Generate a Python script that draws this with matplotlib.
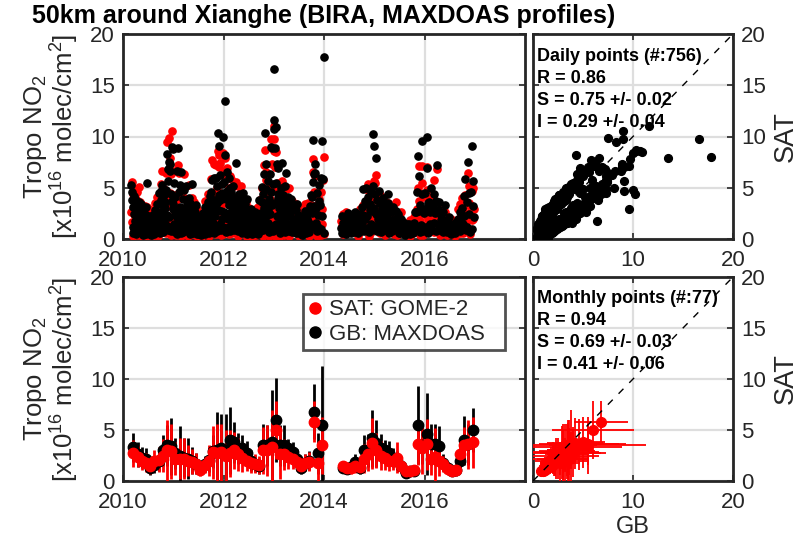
import datetime as dt
import matplotlib
matplotlib.use("Agg")
import matplotlib.pyplot as plt
from matplotlib.lines import Line2D

plt.rcParams['font.family'] = ['Liberation Sans', 'DejaVu Sans']
plt.rcParams['mathtext.fontset'] = 'custom'
plt.rcParams['mathtext.rm'] = 'Liberation Sans'
plt.rcParams['mathtext.it'] = 'Liberation Sans'

# ---------------- data ----------------
months = ["2010-03", "2010-04", "2010-05", "2010-06", "2010-07", "2010-08", "2010-09", "2010-10", "2010-11", "2010-12",
          "2011-01", "2011-02", "2011-03", "2011-04", "2011-05", "2011-06", "2011-07", "2011-08", "2011-09", "2011-10", "2011-11", "2011-12",
          "2012-01", "2012-02", "2012-03", "2012-04", "2012-05", "2012-06", "2012-07", "2012-08", "2012-09", "2012-10", "2012-11", "2012-12",
          "2013-01", "2013-02", "2013-03", "2013-04", "2013-05", "2013-06", "2013-07", "2013-08", "2013-09", "2013-10", "2013-11", "2013-12",
          "2014-05", "2014-06", "2014-07", "2014-08", "2014-09", "2014-10", "2014-11", "2014-12",
          "2015-01", "2015-02", "2015-03", "2015-04", "2015-05", "2015-06", "2015-07", "2015-08", "2015-09", "2015-10", "2015-11", "2015-12",
          "2016-01", "2016-02", "2016-03", "2016-04", "2016-05", "2016-06", "2016-07", "2016-08", "2016-09", "2016-10", "2016-11", "2016-12"]

# monthly means / standard deviations (x1e16 molec/cm2)
monthly_gb = [3.3, 2.6, 2.3, 2.2, 1.3, 1.6, 2.0, 3.0, 3.5, 3.4,
              2.7, 2.5, 2.3, 2.2, 2.0, 1.7, 1.2, 1.7, 2.1, 2.9, 3.0, 3.2,
              3.0, 4.0, 3.8, 3.2, 3.2, 2.7, 2.0, 1.7, 1.5, 3.5, 3.5, 3.8,
              6.0, 3.5, 3.5, 3.2, 2.8, 2.2, 1.25, 1.8, 2.0, 6.8, 2.7, 5.5,
              1.3, 1.2, 1.4, 1.9, 1.3, 3.0, 3.0, 4.2,
              3.7, 3.2, 3.0, 2.7, 2.3, 2.0, 1.5, 0.75, 1.0, 1.0, 5.5, 3.5,
              4.6, 3.6, 3.6, 3.4, 1.8, 1.3, 1.0, 1.1, 2.0, 4.0, 3.6, 5.0]
monthly_gb_sd = [1.4, 1.2, 1.0, 1.0, 0.7, 0.8, 1.0, 1.5, 2.0, 2.8,
                 1.5, 2.9, 1.9, 2.0, 1.3, 1.0, 0.6, 0.8, 1.2, 1.6, 3.8, 3.4,
                 3.6, 3.3, 2.0, 1.5, 1.3, 1.2, 1.0, 0.8, 0.8, 2.1, 2.0, 5.1,
                 4.1, 2.0, 2.0, 0.9, 1.0, 0.9, 0.6, 0.8, 0.9, 2.7, 2.0, 5.8,
                 0.5, 0.5, 0.6, 0.7, 0.6, 1.5, 1.6, 2.8,
                 2.3, 1.4, 1.0, 1.2, 0.9, 0.9, 0.7, 0.5, 0.5, 0.5, 3.8, 1.8,
                 4.0, 2.0, 2.0, 2.0, 0.8, 0.6, 0.5, 0.5, 0.8, 2.4, 2.0, 2.2]
monthly_sat = [2.7, 2.4, 2.0, 1.8, 1.5, 2.0, 2.1, 2.5, 3.0, 2.9,
               2.2, 2.2, 2.2, 2.0, 1.9, 1.7, 1.1, 1.6, 2.0, 2.8, 2.7, 2.8,
               2.5, 2.7, 3.0, 2.6, 2.3, 2.0, 1.8, 1.7, 1.6, 3.0, 3.0, 3.3,
               5.0, 2.6, 2.6, 2.4, 2.2, 1.9, 1.5, 1.8, 1.9, 5.8, 1.8, 3.5,
               1.5, 1.3, 1.3, 1.5, 1.4, 2.2, 2.6, 3.7,
               3.0, 2.5, 2.3, 2.0, 2.0, 2.3, 1.5, 1.0, 1.0, 1.1, 3.6, 3.2,
               3.6, 2.2, 2.4, 2.0, 1.7, 1.2, 1.0, 1.1, 2.6, 3.5, 3.6, 3.8]
monthly_sat_sd = [1.3, 1.0, 0.9, 0.9, 0.8, 1.0, 1.2, 1.6, 3.0, 2.7,
                  1.6, 2.0, 2.0, 1.5, 1.2, 1.0, 0.6, 0.8, 1.5, 2.6, 2.9, 2.8,
                  2.5, 2.3, 1.8, 1.6, 1.4, 1.0, 1.0, 0.9, 0.9, 2.3, 2.5, 3.7,
                  2.8, 2.4, 1.5, 1.2, 1.0, 0.9, 0.7, 0.8, 0.9, 2.0, 1.8, 2.8,
                  0.5, 0.6, 0.6, 0.7, 0.6, 1.4, 1.6, 2.5,
                  1.7, 1.4, 1.2, 1.0, 0.9, 1.5, 0.7, 0.5, 0.5, 0.5, 2.0, 2.5,
                  2.5, 1.6, 2.8, 1.5, 0.8, 0.6, 0.5, 0.6, 1.0, 1.8, 2.4, 2.5]

# daily values, grouped by month (day of month, GB, SAT)
daily_day = [
    [2, 5, 8, 11, 14, 17, 20, 23, 26, 29], [1, 4, 7, 10, 13, 16, 19, 22, 25, 28], [3, 6, 9, 12, 15, 18, 21, 24, 27, 30],
    [2, 5, 9, 12, 15, 19, 22, 24, 28], [1, 4, 8, 11, 14, 18, 21, 24, 27], [3, 6, 10, 13, 16, 20, 23, 26, 29],
    [2, 5, 8, 11, 14, 17, 20, 23, 26, 29], [1, 4, 7, 10, 13, 16, 19, 22, 25, 28], [2, 5, 8, 11, 14, 17, 20, 23, 26, 29],
    [3, 6, 9, 12, 15, 18, 21, 24, 27, 30],
    [1, 4, 7, 10, 13, 16, 19, 22, 25, 28], [2, 5, 9, 12, 15, 18, 21, 24, 27], [1, 4, 8, 11, 14, 18, 21, 24, 27],
    [3, 6, 10, 13, 16, 20, 23, 26, 29], [2, 5, 9, 12, 15, 19, 22, 25, 28], [1, 4, 8, 11, 14, 18, 21, 24, 27],
    [2, 6, 10, 13, 17, 21, 24, 28], [3, 6, 10, 13, 16, 20, 23, 26, 29], [2, 5, 9, 12, 15, 19, 22, 25, 28],
    [1, 4, 7, 10, 13, 16, 19, 22, 25, 28], [2, 5, 8, 11, 14, 17, 20, 23, 26, 29], [3, 6, 9, 12, 15, 18, 21, 24, 27, 30],
    [2, 5, 8, 11, 14, 17, 20, 23, 26, 29], [1, 4, 7, 10, 13, 16, 19, 22, 25, 27], [3, 6, 10, 13, 16, 20, 23, 26, 29],
    [2, 5, 9, 12, 15, 19, 22, 25, 28], [1, 4, 8, 11, 14, 18, 21, 24, 27], [3, 6, 10, 13, 16, 20, 23, 26, 29],
    [1, 5, 9, 12, 16, 20, 23, 27], [3, 7, 11, 14, 18, 22, 25, 29], [2, 6, 10, 13, 17, 21, 24, 28],
    [1, 4, 7, 10, 13, 16, 19, 22, 25, 28], [2, 5, 8, 11, 14, 17, 20, 23, 26, 29], [3, 6, 9, 12, 15, 18, 21, 24, 27, 30],
    [2, 5, 8, 11, 14, 17, 20, 23, 26, 29], [1, 4, 8, 11, 14, 17, 20, 23, 26], [3, 6, 10, 13, 16, 20, 23, 26, 29],
    [2, 6, 10, 13, 17, 21, 24, 28], [1, 5, 9, 12, 16, 20, 23, 27], [3, 7, 11, 14, 18, 22, 25, 29],
    [2, 6, 10, 14, 18, 22, 26], [3, 7, 11, 15, 19, 23, 27], [1, 5, 9, 12, 16, 20, 23, 27],
    [4, 8, 11, 14, 18, 21, 24, 27, 30], [2, 6, 10, 13, 17, 21, 24, 28], [28, 20, 24, 3, 7, 12, 16, 30],
    [3, 8, 13, 17, 22, 27], [2, 7, 12, 16, 21, 26], [4, 9, 15, 20, 26],
    [3, 8, 13, 17, 22, 27], [2, 7, 12, 16, 21, 26], [2, 6, 10, 14, 18, 22, 26],
    [3, 7, 11, 15, 19, 23, 27], [22, 28, 2, 6, 10, 14, 17, 25],
    [12, 1, 5, 9, 16, 20, 24, 28], [2, 6, 10, 14, 18, 22, 26], [3, 7, 11, 15, 19, 23, 27],
    [1, 5, 9, 13, 17, 21, 25], [3, 8, 13, 17, 22, 27], [2, 7, 12, 16, 21, 26],
    [4, 9, 15, 20, 26], [2, 8, 13, 19, 24], [4, 9, 15, 20, 26],
    [3, 8, 13, 17, 22, 27], [14, 2, 7, 11, 25, 20, 29], [11, 2, 7, 16, 21, 26],
    [16, 20, 2, 7, 11, 25, 29], [3, 8, 13, 17, 22, 27], [2, 7, 12, 16, 21, 26],
    [3, 8, 13, 17, 22, 27], [2, 7, 12, 16, 21, 26], [4, 9, 15, 20, 26],
    [2, 8, 13, 19, 24], [4, 9, 15, 20, 26], [3, 8, 13, 17, 22, 27],
    [25, 3, 8, 13, 17, 29], [12, 3, 8, 17, 22, 27], [8, 3, 13, 17, 22, 27]]
daily_gb = [
    [5.3, 4.6, 3.8, 1.2, 0.6, 3.1, 2.4, 4.2, 0.9, 1.8], [3.9, 2.6, 0.5, 1.9, 3.3, 0.8, 2.7, 1.4, 3.6, 2.2],
    [2.9, 1.1, 3.4, 0.7, 2.1, 2.6, 1.6, 0.4, 3.0, 1.9], [1.8, 0.9, 2.4, 1.3, 3.1, 0.5, 2.0, 5.5, 1.5],
    [1.0, 0.6, 1.6, 2.2, 0.8, 1.3, 0.4, 1.9, 1.1], [1.4, 2.3, 0.7, 1.8, 0.5, 2.8, 1.2, 1.6, 0.9],
    [2.6, 1.2, 3.4, 0.8, 2.0, 4.5, 1.5, 2.3, 0.6, 1.7], [3.8, 2.2, 4.7, 1.1, 5.3, 2.9, 0.7, 3.4, 1.8, 4.3],
    [3.0, 3.6, 1.4, 4.8, 2.3, 8.3, 6.8, 0.9, 5.7, 7.5], [2.1, 6.6, 7.3, 1.2, 4.4, 0.8, 9.0, 3.7, 2.9, 8.8],
    [3.4, 1.5, 5.5, 0.7, 2.6, 4.1, 1.1, 2.2, 6.6, 0.5], [8.9, 2.0, 4.6, 0.9, 3.1, 1.4, 5.3, 2.5, 0.6],
    [6.5, 2.6, 1.1, 3.9, 0.7, 2.2, 4.8, 1.7, 3.0], [2.4, 5.2, 1.3, 3.3, 0.8, 1.8, 4.0, 2.9, 0.5],
    [1.8, 3.5, 0.9, 2.4, 5.4, 1.3, 2.0, 0.6, 2.8], [1.5, 2.6, 0.7, 1.9, 3.3, 1.1, 0.5, 2.2, 1.4],
    [1.0, 0.5, 1.6, 0.8, 2.1, 1.3, 0.4, 1.8], [1.6, 2.5, 0.7, 1.2, 3.1, 0.5, 1.9, 1.4, 2.2],
    [2.4, 1.0, 3.6, 1.7, 0.6, 2.9, 4.2, 1.3, 2.0], [4.6, 2.1, 5.8, 1.0, 3.2, 1.6, 2.7, 0.6, 6.0, 3.8],
    [2.2, 6.0, 1.3, 3.5, 0.8, 5.2, 2.8, 10.3, 9.1, 4.3], [3.8, 6.2, 1.5, 2.7, 0.9, 5.4, 2.0, 4.5, 10.0, 1.2],
    [2.6, 5.6, 13.5, 8.2, 1.1, 3.9, 0.7, 4.7, 2.2, 6.5], [4.4, 2.0, 6.0, 1.2, 3.3, 5.0, 0.8, 2.6, 3.8, 4.6],
    [3.6, 1.6, 5.2, 2.5, 0.9, 4.1, 2.0, 3.0, 1.3], [7.4, 2.8, 1.4, 3.7, 0.8, 2.2, 4.4, 1.8, 3.1],
    [2.9, 1.2, 3.8, 2.1, 0.6, 4.5, 1.7, 2.5, 3.3], [2.3, 3.4, 1.0, 1.8, 2.8, 0.5, 3.9, 1.4, 2.1],
    [1.5, 2.4, 0.7, 1.9, 1.1, 2.9, 0.5, 1.7], [1.3, 2.0, 0.6, 1.7, 2.6, 0.9, 1.4, 2.2],
    [1.2, 2.4, 0.5, 1.8, 3.8, 0.8, 1.5, 2.1], [2.5, 5.1, 1.4, 3.6, 0.9, 4.4, 2.0, 6.3, 3.0, 10.3],
    [4.9, 2.2, 7.3, 1.0, 3.4, 5.7, 1.6, 2.8, 0.7, 3.9], [6.3, 2.4, 9.0, 1.3, 4.6, 8.9, 3.3, 0.8, 5.4, 10.7],
    [16.6, 11.6, 3.5, 8.9, 1.5, 10.9, 5.5, 2.2, 7.3, 4.4], [4.0, 6.9, 1.2, 3.0, 0.6, 2.4, 5.0, 1.8, 3.6],
    [7.4, 2.6, 4.3, 1.1, 3.3, 0.7, 5.2, 2.0, 1.6], [6.4, 3.0, 1.3, 4.1, 2.2, 0.8, 3.6, 2.6],
    [2.5, 3.9, 1.4, 0.7, 2.9, 1.9, 3.3, 1.1], [2.0, 1.2, 2.8, 0.6, 1.7, 3.4, 0.9, 2.3],
    [1.1, 0.6, 1.7, 0.9, 1.4, 0.4, 2.0], [1.7, 2.3, 0.8, 1.3, 2.7, 0.6, 1.9],
    [2.0, 1.1, 2.7, 0.7, 1.6, 3.2, 1.4, 4.3], [4.1, 2.5, 5.6, 9.7, 6.3, 3.2, 1.2, 7.3, 6.4],
    [3.0, 1.6, 4.5, 0.8, 2.3, 1.2, 3.7, 5.3], [17.8, 9.6, 5.9, 3.3, 1.0, 6.0, 2.2, 0.6],
    [1.1, 2.2, 0.6, 1.6, 0.9, 1.4], [1.2, 0.5, 1.9, 0.8, 1.5, 2.5], [1.3, 2.1, 0.6, 1.7, 1.0],
    [2.0, 1.4, 2.6, 0.7, 1.8, 1.1], [1.2, 0.6, 1.9, 1.0, 2.4, 0.8], [3.1, 1.5, 4.9, 2.3, 0.8, 3.7, 2.0],
    [5.0, 2.2, 3.4, 1.1, 4.1, 0.7, 2.8], [10.2, 9.1, 3.4, 1.5, 4.6, 0.9, 2.7, 5.2],
    [7.9, 3.0, 4.4, 1.3, 2.4, 0.8, 3.8, 2.0], [4.7, 2.5, 1.4, 3.5, 0.7, 2.1, 3.0],
    [2.8, 4.0, 1.6, 3.3, 0.9, 2.2, 2.6], [2.3, 1.2, 3.5, 4.4, 0.6, 2.9, 1.8],
    [2.6, 1.5, 0.8, 3.1, 2.0, 1.1], [1.8, 2.7, 0.9, 1.4, 2.4, 0.6], [1.3, 0.6, 2.0, 1.0, 1.7],
    [0.7, 1.2, 0.4, 0.9, 1.5], [0.9, 1.5, 0.5, 1.2, 0.8], [1.1, 0.6, 1.6, 0.9, 2.6, 1.3],
    [8.1, 2.6, 4.6, 1.0, 6.1, 2.7, 0.7], [9.6, 3.3, 1.4, 4.4, 0.8, 2.5],
    [10.0, 6.9, 2.9, 4.5, 1.2, 3.5, 0.6], [3.6, 1.5, 2.6, 5.0, 0.9, 3.1], [3.4, 4.4, 1.6, 2.5, 0.8, 3.7],
    [7.2, 2.9, 1.4, 3.6, 0.9, 2.3], [1.9, 1.1, 2.6, 0.7, 1.6, 3.3], [1.3, 0.7, 1.9, 1.0, 2.1],
    [1.0, 0.5, 1.5, 0.8, 1.3], [1.2, 0.6, 1.7, 0.9, 1.4], [2.0, 1.2, 2.6, 0.8, 1.7, 2.3],
    [5.9, 3.0, 1.5, 4.2, 2.2, 0.9], [7.5, 3.6, 1.2, 4.5, 2.4, 0.7], [9.1, 4.6, 1.0, 3.2, 5.7, 2.1]]
daily_sat = [
    [2.6, 5.6, 1.7, 2.9, 0.3, 4.4, 1.0, 4.9, 2.2, 0.6], [1.6, 3.9, 1.5, 0.6, 4.6, 0.4, 1.2, 2.9, 5.1, 0.9],
    [3.6, 0.5, 2.1, 1.4, 2.8, 1.3, 2.5, 0.2, 1.8, 2.6], [0.7, 1.8, 3.2, 0.6, 2.0, 1.1, 2.9, 3.1, 2.3],
    [1.9, 0.3, 0.8, 2.9, 1.5, 0.6, 1.0, 1.1, 2.0], [2.4, 1.3, 1.5, 2.7, 0.4, 3.5, 0.6, 2.2, 1.6],
    [1.6, 2.1, 4.1, 0.3, 2.9, 3.2, 0.9, 3.0, 1.2, 2.5], [5.4, 1.0, 2.5, 2.3, 6.6, 1.4, 1.7, 4.9, 0.7, 2.0],
    [4.6, 1.7, 0.6, 6.4, 1.1, 9.5, 4.4, 2.2, 3.2, 9.9], [3.7, 7.9, 4.5, 0.4, 6.3, 1.9, 10.5, 1.8, 1.3, 6.6],
    [1.6, 3.0, 3.2, 1.6, 4.3, 2.0, 0.4, 3.8, 6.6, 1.2], [7.2, 0.7, 6.4, 2.1, 1.5, 3.0, 3.0, 4.1, 0.3],
    [4.0, 4.3, 0.4, 2.0, 1.8, 1.0, 6.3, 3.0, 1.6], [3.9, 2.8, 2.6, 1.6, 0.3, 3.2, 5.3, 1.4, 1.4],
    [2.6, 2.1, 1.7, 3.2, 4.0, 0.5, 1.1, 1.3, 3.6], [0.8, 3.3, 1.4, 1.0, 2.1, 1.9, 0.3, 2.9, 2.2],
    [1.7, 0.9, 0.7, 1.4, 1.3, 2.0, 0.2, 2.4], [2.4, 1.5, 1.3, 0.5, 3.7, 1.0, 1.1, 2.1, 2.9],
    [1.4, 1.9, 4.4, 2.6, 0.3, 1.8, 3.2, 0.6, 2.8], [5.9, 0.8, 7.7, 2.2, 1.7, 3.1, 4.3, 1.5, 7.3, 2.0],
    [3.9, 7.2, 0.5, 5.0, 1.9, 3.2, 1.4, 8.6, 7.0, 8.2], [2.0, 7.4, 2.9, 4.2, 0.4, 3.5, 3.4, 6.2, 8.4, 0.5],
    [1.2, 3.7, 7.9, 6.6, 2.4, 2.2, 1.6, 6.9, 3.8, 3.8], [2.4, 3.4, 4.0, 0.5, 5.0, 6.1, 1.9, 1.2, 2.1, 5.9],
    [5.1, 0.6, 3.3, 4.0, 2.0, 2.3, 0.9, 1.6, 2.7], [5.6, 1.3, 2.8, 5.2, 0.3, 3.5, 2.6, 0.7, 4.4],
    [1.4, 2.5, 5.2, 0.8, 1.5, 2.9, 3.0, 3.9, 1.9], [3.0, 2.2, 1.8, 0.9, 3.6, 0.2, 2.8, 2.1, 1.2],
    [0.8, 3.0, 1.4, 1.1, 1.9, 2.0, 0.3, 2.4], [2.0, 1.1, 1.2, 2.6, 1.7, 0.4, 2.3, 3.0],
    [0.5, 3.1, 1.1, 2.6, 3.0, 1.6, 0.8, 1.4], [3.9, 3.3, 2.6, 5.0, 0.3, 2.6, 0.8, 7.2, 1.6, 8.7],
    [6.5, 0.9, 5.8, 2.2, 1.9, 4.2, 3.0, 4.3, 0.3, 2.2], [5.2, 3.9, 9.8, 0.5, 2.8, 7.3, 4.9, 1.8, 3.4, 8.6],
    [9.8, 11.0, 1.8, 7.0, 0.1, 8.5, 7.0, 3.6, 4.9, 2.6], [5.5, 5.4, 0.2, 4.4, 1.5, 1.1, 3.1, 3.0, 2.0],
    [5.7, 4.0, 2.4, 0.4, 4.9, 1.6, 3.6, 0.8, 2.9], [4.9, 1.5, 2.6, 2.5, 3.5, 0.3, 5.0, 1.3],
    [3.2, 2.7, 0.7, 1.4, 3.7, 1.0, 2.2, 1.9], [1.1, 2.1, 3.4, 1.2, 0.9, 2.5, 1.6, 3.1],
    [1.8, 0.3, 2.5, 0.6, 0.8, 1.1, 1.4], [2.5, 1.4, 1.5, 0.6, 3.4, 1.2, 1.0],
    [1.0, 1.9, 3.5, 0.3, 2.4, 2.3, 0.7, 3.3], [2.8, 1.1, 6.5, 7.8, 4.3, 4.6, 0.5, 6.1, 1.8],
    [1.8, 2.4, 3.3, 0.3, 1.1, 0.6, 2.5, 3.9], [8.0, 2.9, 5.8, 2.5, 0.4, 4.6, 1.5, 0.5],
    [1.8, 1.3, 1.2, 2.4, 0.5, 0.8], [0.6, 1.1, 2.6, 1.5, 0.9, 1.8], [2.0, 1.3, 1.1, 0.9, 1.6],
    [1.2, 2.1, 2.0, 1.3, 2.5, 0.6], [1.8, 0.3, 1.0, 1.6, 2.9, 1.2], [1.9, 2.3, 3.3, 2.9, 1.4, 2.4, 0.9],
    [4.9, 3.4, 1.6, 2.1, 5.4, 0.3, 1.3], [4.4, 5.7, 4.5, 0.7, 2.5, 1.9, 3.8, 4.1],
    [6.2, 1.4, 5.5, 2.4, 1.1, 1.6, 2.2, 3.1], [4.5, 3.7, 0.6, 1.8, 1.5, 1.0, 4.1],
    [1.6, 3.3, 2.4, 3.8, 0.4, 2.9, 1.5], [2.9, 0.6, 2.1, 3.5, 1.2, 2.0, 2.5],
    [1.6, 2.3, 1.4, 2.5, 2.7, 0.5], [2.6, 3.6, 0.4, 2.2, 1.5, 1.1], [0.7, 1.2, 2.6, 1.6, 1.0],
    [1.3, 0.6, 0.9, 1.5, 0.8], [1.5, 0.8, 0.3, 1.9, 1.2], [0.6, 1.1, 2.1, 1.5, 1.9, 0.7],
    [5.0, 1.4, 2.9, 2.1, 7.1, 3.7, 0.4], [7.1, 1.8, 2.6, 5.5, 0.4, 1.3],
    [4.8, 7.0, 4.1, 2.4, 2.3, 2.0, 1.2], [1.9, 2.5, 1.2, 3.0, 1.7, 4.1], [1.8, 5.8, 0.7, 3.7, 1.6, 2.3],
    [6.8, 1.7, 2.2, 2.5, 0.4, 3.0], [1.0, 1.9, 1.8, 1.2, 2.3, 2.6], [2.0, 0.4, 1.2, 1.5, 1.4],
    [0.6, 1.1, 2.0, 0.5, 1.8], [1.8, 0.3, 1.1, 1.4, 0.8], [2.9, 1.8, 3.4, 0.6, 2.4, 1.9],
    [4.3, 4.0, 0.6, 2.5, 3.2, 1.8], [6.4, 2.0, 2.2, 5.2, 3.5, 0.5], [4.7, 2.8, 1.9, 2.0, 5.0, 2.9]]

stats_daily = ["Daily points (#:756)", "R = 0.86", "S = 0.75 +/- 0.02", "I = 0.29 +/- 0.04"]
stats_monthly = ["Monthly points (#:77)", "R = 0.94", "S = 0.69 +/- 0.03", "I = 0.41 +/- 0.06"]
title = "50km around Xianghe (BIRA, MAXDOAS profiles)"
legend_labels = ["SAT: GOME-2", "GB: MAXDOAS"]


def decimal_year(y, m, d):
    ndays = (dt.date(y + 1, 1, 1) - dt.date(y, 1, 1)).days
    return y + (dt.date(y, m, d).timetuple().tm_yday - 0.5) / ndays


t_day, gb_day, sat_day = [], [], []
for mstr, days, gvals, svals in zip(months, daily_day, daily_gb, daily_sat):
    y, m = map(int, mstr.split("-"))
    for d, g, s in zip(days, gvals, svals):
        t_day.append(decimal_year(y, m, d))
        gb_day.append(g)
        sat_day.append(s)

t_mon = []
for mstr in months:
    y, m = map(int, mstr.split("-"))
    t_mon.append(y + (m - 0.5) / 12.0)

# ---------------- figure ----------------
W, H = 799, 546
fig = plt.figure(figsize=(W / 100, H / 100), dpi=100)


def box(l, r, t, b):
    return [l / W, 1 - b / H, (r - l) / W, (b - t) / H]


ax1 = fig.add_axes(box(123, 525, 34, 239))
ax2 = fig.add_axes(box(533, 733, 34, 239))
ax3 = fig.add_axes(box(123, 525, 277, 481))
ax4 = fig.add_axes(box(533, 733, 277, 481))

DARK = '#262626'
FS = 16
for ax in (ax1, ax2, ax3, ax4):
    ax.set_ylim(0, 20)
    ax.set_yticks([0, 5, 10, 15, 20])
    ax.grid(True, color='#dedede', lw=1.6)
    ax.set_axisbelow(True)
    for sp in ax.spines.values():
        sp.set_color(DARK)
        sp.set_linewidth(2.0)
    ax.tick_params(direction='in', length=4, width=1.2, colors=DARK, labelsize=FS,
                   top=True, right=True)
    ax.tick_params(axis='x', pad=8)
    ax.tick_params(axis='y', pad=6)

for ax in (ax1, ax3):
    ax.set_xlim(2010, 2018)
    ax.set_xticks([2010, 2012, 2014, 2016])
    ax.set_ylabel("Tropo NO$_2$\n[x10$^{16}$ molec/cm$^2$]", fontsize=18.5, color=DARK,
                  linespacing=1.0, labelpad=6)

for ax in (ax2, ax4):
    ax.set_xlim(0, 20)
    ax.set_xticks([0, 10, 20])
    ax.tick_params(labelleft=False, labelright=True)
    ax.yaxis.set_label_position('right')
    ax.set_ylabel("SAT", fontsize=19.5, color=DARK, labelpad=5)
    ax.plot([0, 20], [0, 20], '--', color='black', lw=1.0, dashes=(5, 6), zorder=4)

# top-left: daily time series
ax1.plot(t_day, sat_day, 'o', color='red', ms=5.2, mec='red', zorder=3)
ax1.plot(t_day, gb_day, 'o', color='black', ms=5.2, mec='black', zorder=3)
ax1.set_title(title, fontsize=18, fontweight='bold', pad=8)

# top-right: daily scatter
ax2.plot(gb_day, sat_day, 'o', color='black', ms=5.6, zorder=3)
for i, s in enumerate(stats_daily):
    ax2.text(0.02, 0.888 - i * 0.107, s, transform=ax2.transAxes, fontsize=13,
             fontweight='bold', va='center', zorder=5)

# bottom-left: monthly time series
ax3.errorbar(t_mon, monthly_gb, yerr=monthly_gb_sd, fmt='o', color='black', ms=7.5,
             elinewidth=2.0, capsize=0, zorder=3)
ax3.errorbar(t_mon, monthly_sat, yerr=monthly_sat_sd, fmt='o', color='red', ms=7.5,
             elinewidth=2.0, capsize=0, zorder=3)
handles = [Line2D([], [], ls='none', marker='o', color='red', ms=8),
           Line2D([], [], ls='none', marker='o', color='black', ms=8)]
leg = ax3.legend(handles, legend_labels, loc='upper left',
                 bbox_to_anchor=(0.448, 0.652, 0.502, 0.265), mode='expand',
                 fontsize=FS, frameon=True, fancybox=False, handlelength=0.6,
                 handletextpad=0.3, borderpad=0.25, labelspacing=0.15, borderaxespad=0)
leg.get_frame().set_edgecolor(DARK)
leg.get_frame().set_linewidth(2.0)
for txt in leg.get_texts():
    txt.set_color(DARK)

# bottom-right: monthly scatter
ax4.errorbar(monthly_gb, monthly_sat, xerr=monthly_gb_sd, yerr=monthly_sat_sd, fmt='o',
             color='red', ms=7, elinewidth=1.3, capsize=0, zorder=3)
ax4.set_xlabel("GB", fontsize=17, color=DARK, labelpad=2)
for i, s in enumerate(stats_monthly):
    ax4.text(0.02, 0.897 - i * 0.109, s, transform=ax4.transAxes, fontsize=13,
             fontweight='bold', va='center', zorder=5)

fig.savefig("out.png", dpi=100)
